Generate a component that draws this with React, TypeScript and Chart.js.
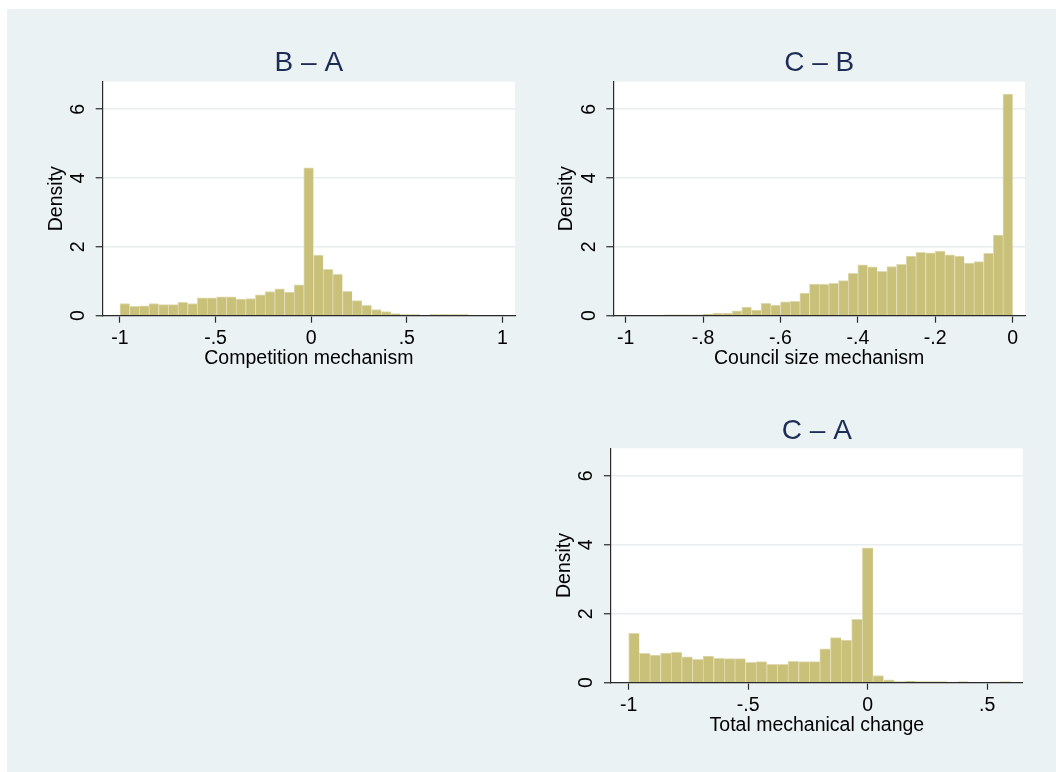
import React, { useEffect, useRef } from 'react';
import { Chart, registerables } from 'chart.js';

Chart.register(...registerables);

const FONT = '"Liberation Sans", Arial, Helvetica, sans-serif';
const TITLE_COLOR = '#1e2d56';
const BAR_FILL = '#c9c17a';
const BAR_EDGE = '#dfdab0';
const AXIS_COLOR = '#2a2a2a';
const GRID_COLOR = '#e6eef0';
const BG_COLOR = '#eaf2f3';

// Shared y axis
const Y_TICKS = [0, 2, 4, 6];
const Y_LABELS = ['0', '2', '4', '6'];
const Y_MAX = 6.8;
const Y_TITLE = 'Density';

// Panel 1: B – A
const P1_TITLE = 'B – A';
const P1_X_TITLE = 'Competition mechanism';
const P1_BIN_START = -1;
const P1_BIN_WIDTH = 0.0506;
const P1_DENSITY = [
  0.35, 0.27, 0.29, 0.35, 0.32, 0.32, 0.39, 0.35, 0.52, 0.52, 0.55, 0.55,
  0.48, 0.5, 0.61, 0.7, 0.78, 0.69, 0.9, 4.3, 1.76, 1.35, 1.2, 0.71,
  0.44, 0.3, 0.18, 0.12, 0.06, 0.03, 0.03, 0, 0.03, 0.03, 0.03, 0.03,
];
const P1_X_TICKS = [-1, -0.5, 0, 0.5, 1];
const P1_X_LABELS = ['-1', '-.5', '0', '.5', '1'];
const P1_X_MIN = -1.09;
const P1_X_MAX = 1.066;

// Panel 2: C – B
const P2_TITLE = 'C – B';
const P2_X_TITLE = 'Council size mechanism';
const P2_BIN_START = -0.9;
const P2_BIN_WIDTH = 0.025;
const P2_DENSITY = [
  0.02, 0.02, 0.02, 0.02, 0.04, 0.07, 0.07, 0.14, 0.25, 0.16, 0.36, 0.31,
  0.4, 0.42, 0.66, 0.92, 0.91, 0.94, 1.02, 1.23, 1.48, 1.42, 1.29, 1.43,
  1.49, 1.73, 1.84, 1.83, 1.88, 1.77, 1.73, 1.53, 1.57, 1.81, 2.34, 6.44,
];
const P2_X_TICKS = [-1, -0.8, -0.6, -0.4, -0.2, 0];
const P2_X_LABELS = ['-1', '-.8', '-.6', '-.4', '-.2', '0'];
const P2_X_MIN = -1.032;
const P2_X_MAX = 0.032;

// Panel 3: C – A
const P3_TITLE = 'C – A';
const P3_X_TITLE = 'Total mechanical change';
const P3_BIN_START = -1;
const P3_BIN_WIDTH = 0.04444;
const P3_DENSITY = [
  1.43, 0.85, 0.8, 0.86, 0.88, 0.75, 0.68, 0.77, 0.71, 0.7, 0.7, 0.59,
  0.61, 0.53, 0.53, 0.62, 0.61, 0.61, 0.98, 1.31, 1.24, 1.84, 3.91, 0.21,
  0.08, 0.03, 0.04, 0.03, 0.03, 0.03, 0, 0.03, 0, 0, 0, 0.03,
];
const P3_X_TICKS = [-1, -0.5, 0, 0.5];
const P3_X_LABELS = ['-1', '-.5', '0', '.5'];
const P3_X_MIN = -1.074;
const P3_X_MAX = 0.649;

type PanelCfg = {
  title: string;
  xTitle: string;
  binStart: number;
  binWidth: number;
  density: number[];
  xTicks: number[];
  xLabels: string[];
  xMin: number;
  xMax: number;
  box: { left: number; top: number; width: number; height: number };
  pad: { left: number; right: number; top: number; bottom: number };
  titlePadBottom: number;
};

const PANELS: PanelCfg[] = [
  {
    title: P1_TITLE, xTitle: P1_X_TITLE, binStart: P1_BIN_START, binWidth: P1_BIN_WIDTH,
    density: P1_DENSITY, xTicks: P1_X_TICKS, xLabels: P1_X_LABELS, xMin: P1_X_MIN, xMax: P1_X_MAX,
    box: { left: 0, top: 0, width: 530, height: 390 },
    pad: { left: 44.7, right: 15, top: 46, bottom: 19.3 },
    titlePadBottom: 2.1,
  },
  {
    title: P2_TITLE, xTitle: P2_X_TITLE, binStart: P2_BIN_START, binWidth: P2_BIN_WIDTH,
    density: P2_DENSITY, xTicks: P2_X_TICKS, xLabels: P2_X_LABELS, xMin: P2_X_MIN, xMax: P2_X_MAX,
    box: { left: 530, top: 0, width: 526, height: 390 },
    pad: { left: 25.3, right: 31, top: 46, bottom: 19.3 },
    titlePadBottom: 2.1,
  },
  {
    title: P3_TITLE, xTitle: P3_X_TITLE, binStart: P3_BIN_START, binWidth: P3_BIN_WIDTH,
    density: P3_DENSITY, xTicks: P3_X_TICKS, xLabels: P3_X_LABELS, xMin: P3_X_MIN, xMax: P3_X_MAX,
    box: { left: 530, top: 390, width: 526, height: 382 },
    pad: { left: 23, right: 33.3, top: 24.4, bottom: 34.3 },
    titlePadBottom: 0.3,
  },
];

const plotBgPlugin = {
  id: 'plotBg',
  beforeDraw(chart: any) {
    const { ctx, chartArea } = chart;
    ctx.save();
    ctx.fillStyle = '#ffffff';
    ctx.fillRect(chartArea.left, chartArea.top, chartArea.right - chartArea.left, chartArea.bottom - chartArea.top);
    ctx.restore();
  },
};

const yLabelPlugin = {
  id: 'yRotLabels',
  afterDraw(chart: any) {
    const { ctx, chartArea } = chart;
    const yScale = chart.scales.y;
    ctx.save();
    ctx.font = `19.5px ${FONT}`;
    ctx.fillStyle = '#000000';
    ctx.textAlign = 'center';
    ctx.textBaseline = 'middle';
    Y_TICKS.forEach((v, i) => {
      const y = yScale.getPixelForValue(v);
      ctx.save();
      ctx.translate(chartArea.left - 24, y);
      ctx.rotate(-Math.PI / 2);
      ctx.fillText(Y_LABELS[i], 0, 0);
      ctx.restore();
    });
    ctx.restore();
  },
};

function Panel({ cfg }: { cfg: PanelCfg }) {
  const ref = useRef<HTMLCanvasElement | null>(null);
  useEffect(() => {
    if (!ref.current) return;
    const data = cfg.density.map((d, i) => ({ x: cfg.binStart + cfg.binWidth * (i + 0.5), y: d }));
    const chart = new Chart(ref.current, {
      type: 'bar',
      data: {
        datasets: [
          {
            data,
            backgroundColor: BAR_FILL,
            borderColor: BAR_EDGE,
            borderWidth: { top: 1, left: 1, right: 0, bottom: 0 },
            borderSkipped: false,
            barPercentage: 1,
            categoryPercentage: 1,
          } as any,
        ],
      },
      options: {
        responsive: false,
        animation: false,
        devicePixelRatio: 1,
        layout: { padding: cfg.pad },
        plugins: {
          legend: { display: false },
          tooltip: { enabled: false },
          title: {
            display: true,
            text: cfg.title,
            fullSize: false,
            color: TITLE_COLOR,
            font: { family: FONT, size: 28, weight: 'normal', lineHeight: 1.2 },
            padding: { top: 0, bottom: cfg.titlePadBottom },
          },
        },
        scales: {
          x: {
            type: 'linear',
            min: cfg.xMin,
            max: cfg.xMax,
            offset: false,
            afterBuildTicks: (scale: any) => {
              scale.ticks = cfg.xTicks.map((v) => ({ value: v }));
            },
            afterFit: (scale: any) => {
              scale.height = 55;
            },
            ticks: {
              autoSkip: false,
              maxRotation: 0,
              minRotation: 0,
              padding: 4.6,
              color: '#000000',
              font: { family: FONT, size: 19.5, lineHeight: 1.2 },
              callback: (_v: any, i: number) => cfg.xLabels[i],
            },
            grid: {
              offset: false,
              drawOnChartArea: false,
              drawTicks: true,
              tickLength: 7,
              tickColor: AXIS_COLOR,
              tickWidth: 1.2,
            },
            border: { display: true, color: AXIS_COLOR, width: 1.2, z: 2 },
            title: {
              display: true,
              text: cfg.xTitle,
              color: '#000000',
              font: { family: FONT, size: 19.5, lineHeight: 1.2 },
              padding: { top: 0, bottom: 0 },
            },
          },
          y: {
            type: 'linear',
            min: 0,
            max: Y_MAX,
            afterBuildTicks: (scale: any) => {
              scale.ticks = Y_TICKS.map((v) => ({ value: v }));
            },
            afterFit: (scale: any) => {
              scale.width = 58;
            },
            ticks: { display: false },
            grid: {
              offset: false,
              drawOnChartArea: true,
              drawTicks: true,
              tickLength: 7,
              color: GRID_COLOR,
              lineWidth: 1.5,
              tickColor: AXIS_COLOR,
              tickWidth: 1.2,
            },
            border: { display: true, color: AXIS_COLOR, width: 1.2, z: 2 },
            title: {
              display: true,
              text: Y_TITLE,
              color: '#000000',
              font: { family: FONT, size: 19.5, lineHeight: 1.2 },
              padding: { top: 0, bottom: 0 },
            },
          },
        },
      } as any,
      plugins: [plotBgPlugin, yLabelPlugin],
    });
    return () => chart.destroy();
  }, [cfg]);
  const b = cfg.box;
  return (
    <canvas
      ref={ref}
      width={b.width}
      height={b.height}
      style={{ position: 'absolute', left: b.left, top: b.top, width: b.width, height: b.height, display: 'block' }}
    />
  );
}

export default function App() {
  return (
    <div style={{ position: 'absolute', left: 0, top: 0, width: 1056, height: 772, background: '#ffffff', overflow: 'hidden' }}>
      <div style={{ position: 'absolute', left: 7, top: 9, width: 1049, height: 763, background: BG_COLOR }} />
      {PANELS.map((p, i) => (
        <Panel key={i} cfg={p} />
      ))}
    </div>
  );
}
